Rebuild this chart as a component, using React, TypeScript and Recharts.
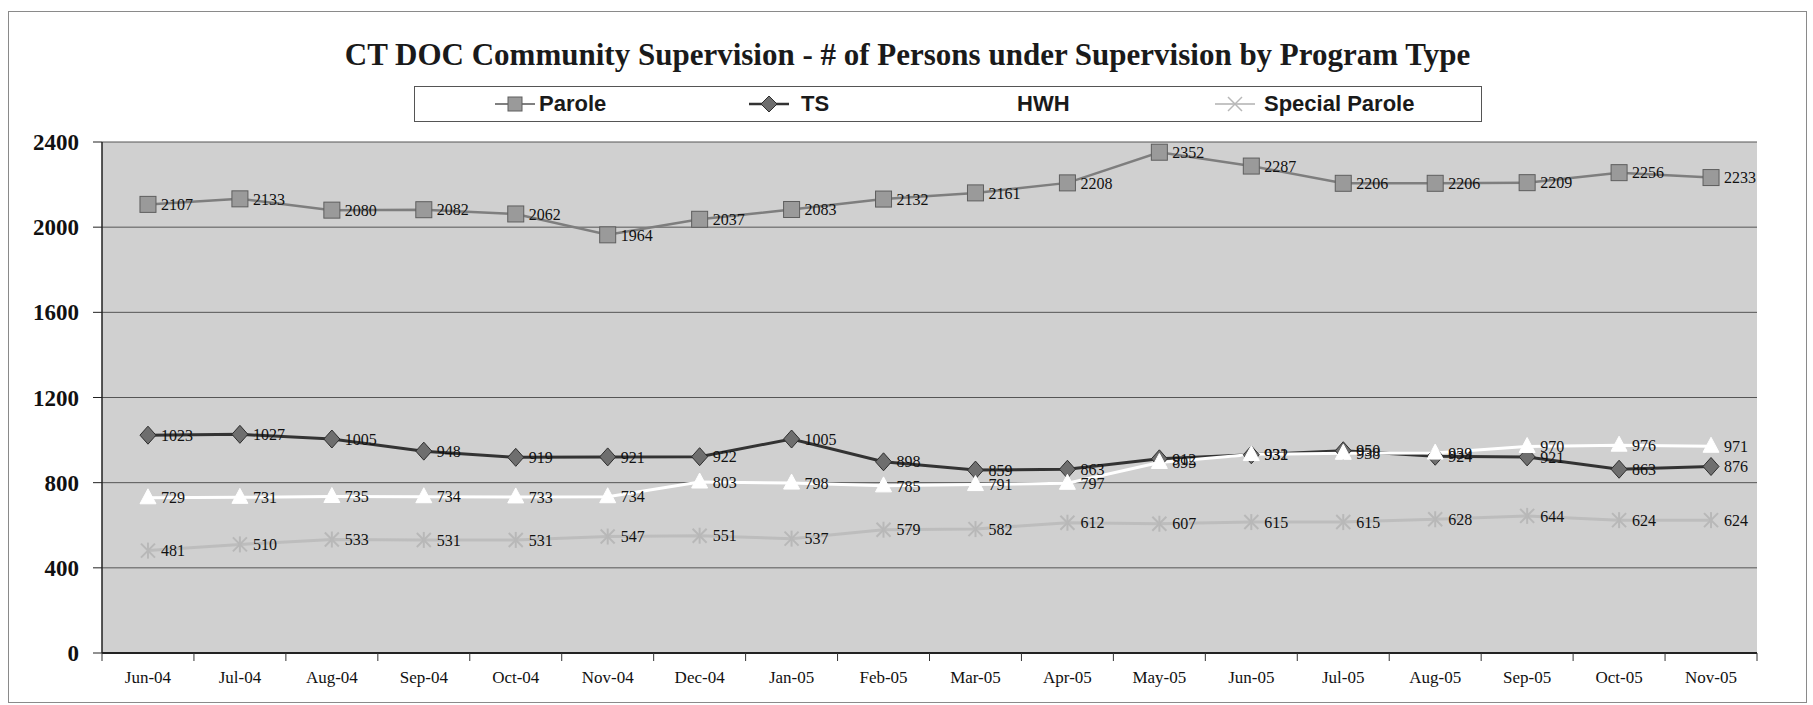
import React from 'react';
import { LineChart, Line, XAxis, YAxis, CartesianGrid, LabelList } from 'recharts';

const months = ['Jun-04', 'Jul-04', 'Aug-04', 'Sep-04', 'Oct-04', 'Nov-04', 'Dec-04', 'Jan-05', 'Feb-05', 'Mar-05', 'Apr-05', 'May-05', 'Jun-05', 'Jul-05', 'Aug-05', 'Sep-05', 'Oct-05', 'Nov-05'];
const parole = [2107, 2133, 2080, 2082, 2062, 1964, 2037, 2083, 2132, 2161, 2208, 2352, 2287, 2206, 2206, 2209, 2256, 2233];
const ts = [1023, 1027, 1005, 948, 919, 921, 922, 1005, 898, 859, 863, 912, 931, 950, 924, 921, 863, 876];
const hwh = [729, 731, 735, 734, 733, 734, 803, 798, 785, 791, 797, 895, 932, 938, 939, 970, 976, 971];
const specialParole = [481, 510, 533, 531, 531, 547, 551, 537, 579, 582, 612, 607, 615, 615, 628, 644, 624, 624];
const yTicks = [0, 400, 800, 1200, 1600, 2000, 2400];
const title = 'CT DOC Community Supervision - # of Persons under Supervision by Program Type';

const data = months.map((m, i) => ({
  month: m,
  parole: parole[i],
  ts: ts[i],
  hwh: hwh[i],
  sp: specialParole[i],
}));

const CHART_W = 1797;
const CHART_H = 690;
const MARGIN = { top: 130, right: 49, bottom: 0, left: 0 };
const Y_W = 93;
const PLOT_W = CHART_W - MARGIN.right - Y_W;
const BW = PLOT_W / months.length;

const serif = '"Liberation Serif", "Times New Roman", serif';
const sans = '"Liberation Sans", Arial, sans-serif';

const SquareDot = (p: any) => {
  if (p.cx == null || p.cy == null) return <g key={`s${p.index}`} />;
  return <rect key={`s${p.index}`} x={p.cx - 8} y={p.cy - 8} width={16} height={16} fill="#9a9a9a" stroke="#5e5e5e" strokeWidth={1} />;
};
const DiamondDot = (p: any) => {
  if (p.cx == null || p.cy == null) return <g key={`d${p.index}`} />;
  const { cx, cy } = p;
  return <polygon key={`d${p.index}`} points={`${cx},${cy - 9} ${cx + 8},${cy} ${cx},${cy + 9} ${cx - 8},${cy}`} fill="#6e6e6e" stroke="#2e2e2e" strokeWidth={1} />;
};
const TriDot = (p: any) => {
  if (p.cx == null || p.cy == null) return <g key={`t${p.index}`} />;
  const { cx, cy } = p;
  return <polygon key={`t${p.index}`} points={`${cx},${cy - 9} ${cx + 8},${cy + 6} ${cx - 8},${cy + 6}`} fill="#ffffff" stroke="#ffffff" strokeWidth={1} />;
};
const StarDot = (p: any) => {
  if (p.cx == null || p.cy == null) return <g key={`x${p.index}`} />;
  const { cx, cy } = p;
  return (
    <g key={`x${p.index}`} stroke="#b8b8b8" strokeWidth={2}>
      <line x1={cx - 7} y1={cy - 7} x2={cx + 7} y2={cy + 7} />
      <line x1={cx - 7} y1={cy + 7} x2={cx + 7} y2={cy - 7} />
      <line x1={cx} y1={cy - 8} x2={cx} y2={cy + 8} />
    </g>
  );
};

const XTick = (p: any) => {
  const { x, y, payload, index } = p;
  const axisY = y - 18;
  return (
    <g>
      <line x1={x - BW / 2} x2={x - BW / 2} y1={axisY} y2={axisY + 8} stroke="#333" strokeWidth={1} />
      {index === months.length - 1 && (
        <line x1={x + BW / 2} x2={x + BW / 2} y1={axisY} y2={axisY + 8} stroke="#333" strokeWidth={1} />
      )}
      <text x={x} y={y} dy="0.71em" textAnchor="middle" fontFamily={serif} fontSize={17} fill="#111">
        {payload.value}
      </text>
    </g>
  );
};

const labelStyle = { fontFamily: serif, fontSize: 16, fill: '#111' };

const LegendMark = ({ kind }: { kind: string }) => {
  const common = { width: 40, height: 20 };
  if (kind === 'square')
    return (
      <svg {...common}>
        <line x1={0} y1={10} x2={40} y2={10} stroke="#808080" strokeWidth={2} />
        <rect x={13} y={3} width={14} height={14} fill="#9a9a9a" stroke="#5e5e5e" />
      </svg>
    );
  if (kind === 'diamond')
    return (
      <svg {...common}>
        <line x1={0} y1={10} x2={40} y2={10} stroke="#333" strokeWidth={2.5} />
        <polygon points="20,2 28,10 20,18 12,10" fill="#6e6e6e" stroke="#2e2e2e" />
      </svg>
    );
  if (kind === 'tri')
    return (
      <svg {...common}>
        <line x1={0} y1={10} x2={40} y2={10} stroke="#fff" strokeWidth={3} />
        <polygon points="20,2 28,16 12,16" fill="#fff" />
      </svg>
    );
  return (
    <svg {...common}>
      <line x1={0} y1={10} x2={40} y2={10} stroke="#c4c4c4" strokeWidth={2} />
      <g stroke="#b8b8b8" strokeWidth={1.5}>
        <line x1={13} y1={3} x2={27} y2={17} />
        <line x1={13} y1={17} x2={27} y2={3} />
      </g>
    </svg>
  );
};

const legendItems = [
  { name: 'Parole', kind: 'square', mark: 80, text: 124 },
  { name: 'TS', kind: 'diamond', mark: 334, text: 386 },
  { name: 'HWH', kind: 'tri', mark: 550, text: 602 },
  { name: 'Special Parole', kind: 'star', mark: 800, text: 849 },
];

export default function App() {
  return (
    <div
      style={{
        position: 'absolute',
        left: 8,
        top: 11,
        width: CHART_W,
        height: CHART_H,
        border: '1px solid #8a8a8a',
        background: '#fff',
      }}
    >
      <div
        style={{
          position: 'absolute',
          left: 0,
          top: 26,
          width: '100%',
          textAlign: 'center',
          fontFamily: serif,
          fontWeight: 'bold',
          fontSize: 31,
          lineHeight: '34px',
          color: '#1a1a1a',
        }}
      >
        {title}
      </div>
      <div
        style={{
          position: 'absolute',
          left: 405,
          top: 74,
          width: 1066,
          height: 34,
          border: '1px solid #555',
          background: '#fff',
        }}
      >
        {legendItems.map((it) => (
          <React.Fragment key={it.name}>
            <div style={{ position: 'absolute', left: it.mark, top: 7 }}>
              <LegendMark kind={it.kind} />
            </div>
            <div
              style={{
                position: 'absolute',
                left: it.text,
                top: 4,
                fontFamily: sans,
                fontWeight: 'bold',
                fontSize: 22,
                lineHeight: '26px',
                color: '#1a1a1a',
              }}
            >
              {it.name}
            </div>
          </React.Fragment>
        ))}
      </div>
      <div style={{ position: 'absolute', left: 0, top: 0 }}>
        <LineChart width={CHART_W} height={CHART_H} data={data} margin={MARGIN}>
          <CartesianGrid vertical={false} fill="#d0d0d0" stroke="#555" strokeWidth={1} />
          <XAxis
            dataKey="month"
            scale="band"
            interval={0}
            height={49}
            tickSize={8}
            tickMargin={10}
            tickLine={false}
            axisLine={{ stroke: '#222', strokeWidth: 2 }}
            tick={<XTick />}
          />
          <YAxis
            width={Y_W}
            domain={[0, 2400]}
            ticks={yTicks}
            interval={0}
            tickSize={9}
            tickMargin={14}
            axisLine={{ stroke: '#222', strokeWidth: 1.5 }}
            tickLine={{ stroke: '#222' }}
            tick={{ fontFamily: serif, fontWeight: 'bold', fontSize: 23, fill: '#111' }}
          />
          <Line dataKey="parole" stroke="#7e7e7e" strokeWidth={2.5} dot={SquareDot} isAnimationActive={false}>
            <LabelList dataKey="parole" position="right" offset={13} style={labelStyle} />
          </Line>
          <Line dataKey="ts" stroke="#333" strokeWidth={3} dot={DiamondDot} isAnimationActive={false}>
            <LabelList dataKey="ts" position="right" offset={13} style={labelStyle} />
          </Line>
          <Line dataKey="hwh" stroke="#ffffff" strokeWidth={3} dot={TriDot} isAnimationActive={false}>
            <LabelList dataKey="hwh" position="right" offset={13} style={labelStyle} />
          </Line>
          <Line dataKey="sp" stroke="#bdbdbd" strokeWidth={3} dot={StarDot} isAnimationActive={false}>
            <LabelList dataKey="sp" position="right" offset={13} style={labelStyle} />
          </Line>
        </LineChart>
      </div>
    </div>
  );
}
